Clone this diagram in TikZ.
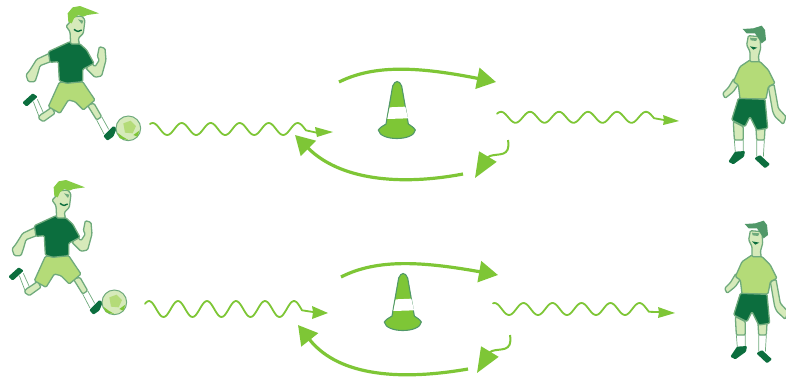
\documentclass[tikz,border=0pt]{standalone}
\usetikzlibrary{arrows.meta}
\definecolor{dk}{HTML}{0C6E3E}
\definecolor{lt}{HTML}{B4DB78}
\definecolor{sk}{HTML}{D6EABA}
\definecolor{ol}{HTML}{6FAA7C}
\definecolor{gr}{HTML}{7EC636}
\definecolor{hr}{HTML}{86CC45}
\tikzset{
 shp/.style={draw=ol,line width=1.3pt,line join=round,rounded corners=1.2pt},
 thinl/.style={draw=ol,line width=.7pt},
 wave/.style={draw=gr,line width=1.8pt,line join=round,line cap=round},
 wavetip/.style={fill=gr,draw=none},
 loopar/.style={draw=gr,line width=3.2pt,-{Triangle[length=19pt,width=21pt]}},
 smallar/.style={draw=gr,line width=2pt,-{Triangle[length=25pt,width=20pt]}},
 kicker/.pic={
  \begin{scope}[scale=1/3]
  \fill[shp,fill=sk] (148,160)--(110,178)--(90,210)--(78,225)--(85,245)--(105,245)--(112,225)--(120,197)--(152,185)--cycle;
  \fill[shp,fill=sk] (258,205)--(285,232)--(305,228)--(318,180)--(315,145)--(298,140)--(292,170)--(298,180)--(285,200)--(275,190)--cycle;
  \fill[shp,fill=sk] (155,322)--(132,338)--(120,345)--(115,355)--(130,365)--(165,340)--cycle;
  \draw[thinl] (100,305)--(118,352) (112,298)--(130,338);
  \fill[shp,fill=sk] (262,315)--(282,310)--(305,350)--(290,360)--cycle;
  \draw[thinl] (290,360)--(312,402) (305,350)--(326,388);
  \fill[shp,fill=lt] (178,247)--(248,245)--(285,300)--(250,330)--(225,305)--(205,300)--(180,340)--(145,320)--cycle;
  \fill[shp,fill=dk] (145,155)--(210,125)--(240,132)--(260,150)--(282,190)--(248,208)--(248,245)--(200,250)--(178,243)--(175,185)--(150,187)--cycle;
  \fill[shp,fill=sk] (205,72)--(222,50)--(245,48)--(255,60)--(250,100)--(235,115)--(238,132)--(212,132)--(210,95)--(198,78)--cycle;
  \fill[fill=hr] (205,65)--(203,40)--(218,22)--(240,18)--(297,40)--(262,45)--(250,50)--(235,45)--(222,55)--(215,70)--cycle;
  \fill[fill=ol] (234,58) -- (250,62) -- (246,72) -- cycle;
  \draw[dk,line width=1.4pt] (222,88) .. controls (232,96) and (238,96) .. (245,90);
  \fill[dk,rounded corners=1pt] (67,308)--(98,280)--(113,290)--(80,320)--cycle;
  \fill[dk,rounded corners=1pt] (310,408)--(340,378)--(350,385)--(340,410)--(322,422)--cycle;
  \fill[sk,draw=ol,line width=1pt] (385,385) circle (37);
  \fill[lt] (370,370)--(392,362)--(408,378)--(398,400)--(375,398)--cycle;
  \fill[gr] (352,398)--(368,410)--(385,420)--(360,415)--cycle;
  \fill[gr] (400,405)--(418,392)--(412,410)--cycle;
  \end{scope}},
 stander/.pic={
  \begin{scope}[scale=1/3]
  \fill[shp,fill=sk] (102,190)--(117,205)--(100,230)--(75,250)--(68,235)--(85,218)--cycle;
  \fill[shp,fill=sk] (205,215)--(222,208)--(235,280)--(258,305)--(250,328)--(225,305)--(218,290)--cycle;
  \fill[shp,fill=sk] (100,320)--(130,335)--(130,375)--(103,375)--cycle;
  \fill[shp,fill=sk] (168,340)--(195,340)--(193,375)--(170,375)--cycle;
  \draw[thinl] (103,375)--(106,412) (130,375)--(130,410) (170,375)--(170,425) (193,375)--(190,425);
  \fill[shp,fill=lt] (150,135)--(180,140)--(205,165)--(225,205)--(205,215)--(198,252)--(120,252)--(115,210)--(100,200)--(120,155)--cycle;
  \fill[shp,fill=dk] (115,250)--(195,253)--(203,340)--(170,345)--(150,305)--(135,335)--(95,315)--cycle;
  \fill[shp,fill=sk] (145,62)--(180,65)--(182,100)--(175,125)--(178,140)--(150,140)--(150,110)--(140,90)--cycle;
  \fill[fill=ol!70!dk] (128,42)--(160,40)--(185,32)--(195,45)--(198,75)--(185,85)--(165,55)--(140,55)--cycle;
  \fill[dk] (150,94)--(172,98)--(160,104)--cycle;
  \fill[ol] (150,68)--(172,70)--(168,78)--(152,76)--cycle;
  \fill[dk,rounded corners=1pt] (85,440)--(105,410)--(135,408)--(132,425)--(100,448)--cycle;
  \fill[dk,rounded corners=1pt] (163,430)--(180,420)--(210,448)--(195,460)--cycle;
  \end{scope}},
 cone/.pic={
  \begin{scope}[scale=1/3]
  \fill[fill=gr,draw=ol!70!dk,line width=1.1pt] (295,240) .. controls (303,228) and (312,228) .. (318,222) -- (338,108) .. controls (345,90) and (358,90) .. (365,108) -- (385,222) .. controls (392,228) and (400,230) .. (406,240) .. controls (402,274) and (299,274) .. (295,240) -- cycle;
  \fill[white] (329,172)--(376,170)--(384,205)--(322,207)--cycle;
  \end{scope}}
}
\newcommand{\wavy}[5]{% start x, end x, crest x, centre y, amplitude
 plot[domain=#1:#2,samples=110,smooth] (\x,{#4-#5*cos((\x-#3)/29*360)})}
\begin{document}
\begin{tikzpicture}[x=1pt,y=-1pt]
\useasboundingbox (0,0) rectangle (786,383);
% figures
\pic at (0,0) {kicker};
\pic at (-14,174) {kicker};
\pic at (700,15) {stander};
\pic at (702,210) {stander};
\pic at (280,50) {cone};
\pic at (286,242) {cone};
% wave ends
\coordinate (a2) at (316,132.5); \coordinate (a3) at (333,132);
\coordinate (b2) at (664,120); \coordinate (b3) at (679,121);
\coordinate (c2) at (313,312); \coordinate (c3) at (328,313);
\coordinate (d2) at (659,312); \coordinate (d3) at (675,313);
% waves
\draw[wave] \wavy{150}{306}{181.7}{129}{6} -- (a2);
\fill[wavetip] (a3) -- (315,127) -- (a2) -- (317,137) -- cycle;
\draw[wave] \wavy{497}{654}{530}{117.3}{5.5} -- (b2);
\fill[wavetip] (b3) -- (663,115) -- (b2) -- (663,125) -- cycle;
\draw[wave] \wavy{145}{302}{178}{309}{8} -- (c2);
\fill[wavetip] (c3) -- (312,306) -- (c2) -- (312,319) -- cycle;
\draw[wave] \wavy{493}{649}{523.5}{309}{6} -- (d2);
\fill[wavetip] (d3) -- (658,307) -- (d2) -- (658,318) -- cycle;
% loop arrows top
\coordinate (e1) at (339,82); \coordinate (e2) at (496,82);
\coordinate (f1) at (463,174); \coordinate (f2) at (295,135);
\coordinate (g1) at (508,140); \coordinate (g2) at (475,178);
\draw[loopar] (e1) .. controls (375,64) and (420,67) .. (e2);
\draw[loopar] (f1) .. controls (400,186) and (340,180) .. (f2);
\draw[smallar] (g1) .. controls (511,158) and (498,153) .. (490,156) .. controls (487,158) .. (g2);
% loop arrows bottom
\coordinate (h1) at (341,277); \coordinate (h2) at (498,275);
\coordinate (i1) at (468,369); \coordinate (i2) at (298,325);
\coordinate (j1) at (510,335); \coordinate (j2) at (477,373);
\draw[loopar] (h1) .. controls (378,258) and (425,262) .. (h2);
\draw[loopar] (i1) .. controls (405,380) and (340,378) .. (i2);
\draw[smallar] (j1) .. controls (513,353) and (500,348) .. (492,351) .. controls (489,353) .. (j2);
\end{tikzpicture}
\end{document}
